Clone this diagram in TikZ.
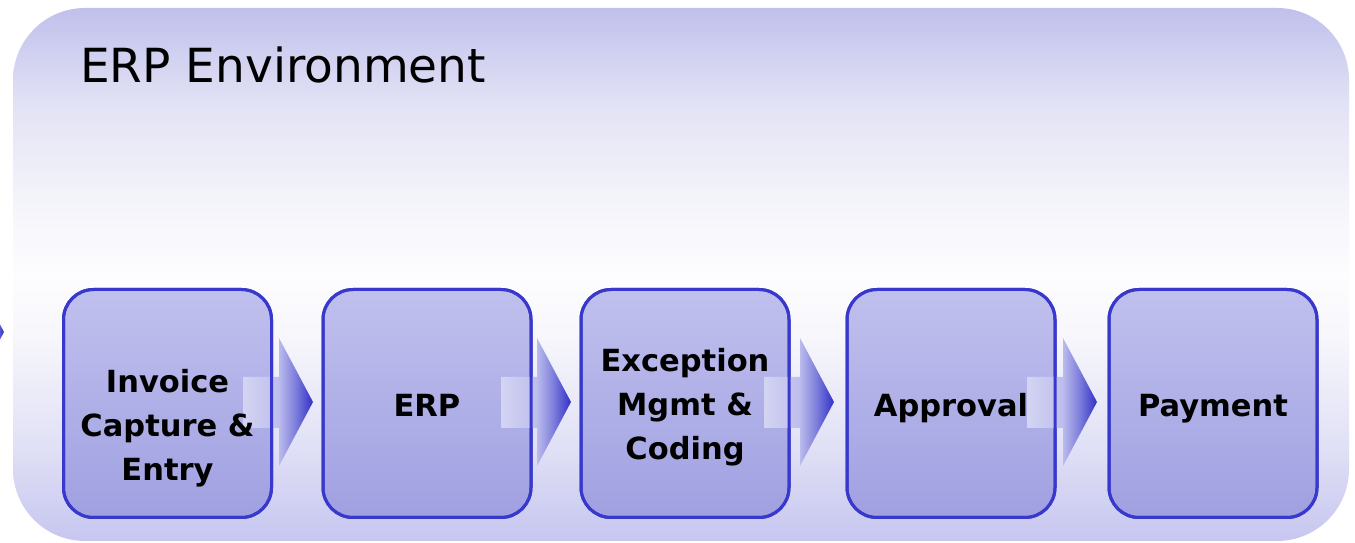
\documentclass[tikz,border=0pt]{standalone}
\usepackage{fontspec}
\setmainfont{DejaVu Sans}
\usetikzlibrary{shadings,calc}
\definecolor{bg0}{HTML}{C6C6F0}
\definecolor{bg1}{HTML}{E2E2F6}
\definecolor{bg2}{HTML}{F8F8FC}
\definecolor{bg3}{HTML}{FDFDFF}
\definecolor{bg4}{HTML}{F4F4FB}
\definecolor{bg5}{HTML}{E2E2F5}
\definecolor{bg6}{HTML}{C0C0EC}
\definecolor{boxtop}{HTML}{C0C0EE}
\definecolor{boxbot}{HTML}{A0A0E2}
\definecolor{boxline}{HTML}{3838CC}
\definecolor{ar0}{HTML}{D4D4F2}
\definecolor{ar1}{HTML}{BEBEEE}
\definecolor{ar2}{HTML}{8080DC}
\definecolor{ar3}{HTML}{3030C8}
\pgfdeclareverticalshading{bgshade}{100bp}{color(0bp)=(bg0); color(25bp)=(bg0); color(34.5bp)=(bg1); color(45bp)=(bg2); color(50bp)=(bg3); color(57bp)=(bg4); color(66bp)=(bg5); color(75bp)=(bg6); color(100bp)=(bg6)}
\pgfdeclarehorizontalshading{arrshade}{100bp}{color(0bp)=(ar0); color(25bp)=(ar0); color(50bp)=(ar1); color(62bp)=(ar2); color(75bp)=(ar3); color(100bp)=(ar3)}
\begin{document}
\begin{tikzpicture}[x=1pt,y=1pt,
  boxfill/.style={rounded corners=30pt, minimum width=208pt, minimum height=228pt, inner sep=0pt, top color=boxtop, bottom color=boxbot, draw=boxline, line width=3pt},
  boxedge/.style={rounded corners=30pt, minimum width=208pt, minimum height=228pt, inner sep=0pt, draw=boxline, line width=3pt},
  lbl/.style={font=\bfseries\fontsize{30.5}{44}\selectfont, align=center, text depth=0pt, inner sep=0pt},
  flow/.style={shading=arrshade},
  envtitle/.style={anchor=base west, font=\fontsize{47}{50}\selectfont, inner sep=0pt}
]
\useasboundingbox (0,0) rectangle (1355,543);
\clip (0,0) rectangle (1355,543);
% environment background
\path[shading=bgshade, rounded corners=72pt] (13,2) rectangle (1349,535);
\node[envtitle] (title) at (80,460) {ERP Environment};
% cut-off arrow tip at the left edge
\path[flow] (-30,275) -- (4,211) -- (-30,147) -- cycle;
% boxes
\node[boxfill] (b1) at (167.5,139.5) {};
\node[boxfill] (b2) at (427,139.5) {};
\node[boxfill] (b3) at (685,139.5) {};
\node[boxfill] (b4) at (951,139.5) {};
\node[boxfill] (b5) at (1213,139.5) {};
% block arrows
\coordinate (a1) at (279,141);
\coordinate (a2) at (537,141);
\coordinate (a3) at (800,141);
\coordinate (a4) at (1063,141);
\foreach \a in {a1,a2,a3,a4}{
  \path[flow] ($(\a)+(-36,25)$) -- ($(\a)+(0,25)$) -- ($(\a)+(0,64)$) -- ($(\a)+(34,0)$) -- ($(\a)+(0,-64)$) -- ($(\a)+(0,-26)$) -- ($(\a)+(-36,-26)$) -- cycle;
}
% box borders on top
\node[boxedge] (e1) at (b1) {};
\node[boxedge] (e2) at (b2) {};
\node[boxedge] (e3) at (b3) {};
\node[boxedge] (e4) at (b4) {};
\node[boxedge] (e5) at (b5) {};
% labels
\node[lbl] (l1) at ($(b1)+(0,-21)$) {Invoice\\Capture \&\\Entry};
\node[lbl] (l2) at ($(b2)+(0,-1.5)$) {ERP};
\node[lbl] (l3) at ($(b3)+(0,-0.5)$) {Exception\\Mgmt \&\\Coding};
\node[lbl] (l4) at ($(b4)+(0,-1.5)$) {Approval};
\node[lbl] (l5) at ($(b5)+(0,-1.5)$) {Payment};
\end{tikzpicture}
\end{document}
